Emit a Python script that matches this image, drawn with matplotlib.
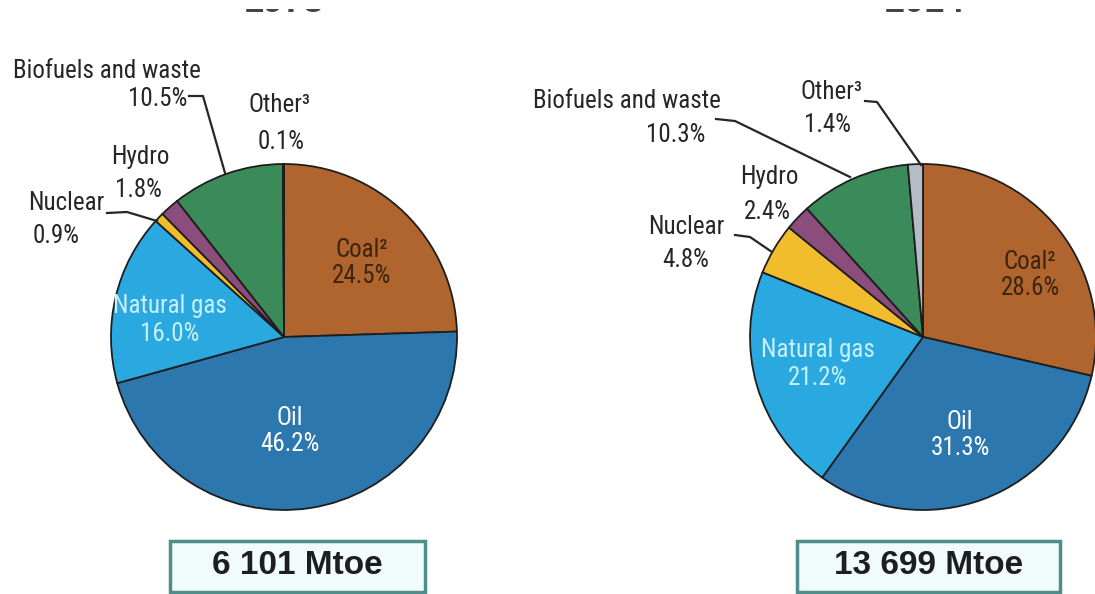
import matplotlib.pyplot as plt
from matplotlib import font_manager
from matplotlib.patches import Rectangle

# labels use a narrow sans if one is installed
available = {f.name for f in font_manager.fontManager.ttflist}
narrow_fonts = ['Liberation Sans Narrow', 'Arial Narrow', 'Roboto Condensed', 'Open Sans Condensed']
label_font = next((n for n in narrow_fonts if n in available), 'Liberation Sans')
label_size = 18 if label_font != 'Liberation Sans' else 15.5
plt.rcParams['font.family'] = [label_font, 'DejaVu Sans']

# shares of total primary energy supply, clockwise from 12 o'clock
fuels = ['Coal', 'Oil', 'Natural gas', 'Nuclear', 'Hydro', 'Biofuels and waste', 'Other']
share_1973 = [24.5, 46.2, 16.0, 0.9, 1.8, 10.5, 0.1]
share_2014 = [28.6, 31.3, 21.2, 4.8, 2.4, 10.3, 1.4]
years = ['1973', '2014']
totals = ['6 101 Mtoe', '13 699 Mtoe']
fuel_colors = ['#b0652e', '#2b77ae', '#2aa9e0', '#f2bd2c', '#8a4d7c', '#3a8a5a', '#b4bcc6']

W, H = 1095, 594


def Y(py):
    # pixel rows run downwards, axes y runs upwards
    return H - py


fig = plt.figure(figsize=(W / 100, H / 100), dpi=100)
ax = fig.add_axes([0, 0, 1, 1])

centers = [(284, 337), (923, 337)]
for shares, (cx, cy) in zip([share_1973, share_2014], centers):
    ax.pie(shares, colors=fuel_colors, startangle=90, counterclock=False,
           center=(cx, Y(cy)), radius=173,
           wedgeprops=dict(edgecolor='#1e1e1e', linewidth=1.3))

ax.set_xlim(0, W)
ax.set_ylim(0, H)
ax.set_aspect('equal')
ax.axis('off')

lab = dict(fontsize=label_size, color='#262626', va='center')
inner = dict(fontsize=label_size, ha='center', va='center')
line = dict(color='#262626', lw=1.6)


def pct(v):
    return '%.1f%%' % v


# 1973 pie labels
ax.text(362, Y(250), 'Coal²', color='#3b2410', **inner)
ax.text(362, Y(276), pct(share_1973[0]), color='#3b2410', **inner)
ax.text(290, Y(418), 'Oil', color='white', **inner)
ax.text(290, Y(444), pct(share_1973[1]), color='white', **inner)
ax.text(170, Y(306), 'Natural gas', color='#c8f0fb', **inner)
ax.text(170, Y(334), pct(share_1973[2]), color='#c8f0fb', **inner)
ax.text(13, Y(71), fuels[5], ha='left', **lab)
ax.text(187, Y(99), pct(share_1973[5]), ha='right', **lab)
ax.text(280, Y(105), 'Other³', ha='center', **lab)
ax.text(281, Y(142), pct(share_1973[6]), ha='center', **lab)
ax.text(140, Y(157), 'Hydro', ha='center', **lab)
ax.text(138, Y(190), pct(share_1973[4]), ha='center', **lab)
ax.text(28, Y(203), 'Nuclear', ha='left', **lab)
ax.text(33, Y(236), pct(share_1973[3]), ha='left', **lab)
ax.plot([189, 203, 225], [Y(96), Y(96), Y(173)], **line)
ax.plot([107, 127, 157], [Y(213), Y(212), Y(221)], **line)

# 2014 pie labels
ax.text(1030, Y(262), 'Coal²', color='#3b2410', **inner)
ax.text(1030, Y(288), pct(share_2014[0]), color='#3b2410', **inner)
ax.text(960, Y(422), 'Oil', color='white', **inner)
ax.text(960, Y(448), pct(share_2014[1]), color='white', **inner)
ax.text(818, Y(350), 'Natural gas', color='#c8f0fb', **inner)
ax.text(818, Y(378), pct(share_2014[2]), color='#c8f0fb', **inner)
ax.text(533, Y(101), fuels[5], ha='left', **lab)
ax.text(705, Y(135), pct(share_2014[5]), ha='right', **lab)
ax.text(831, Y(92), 'Other³', ha='center', **lab)
ax.text(828, Y(125), pct(share_2014[6]), ha='center', **lab)
ax.text(769, Y(177), 'Hydro', ha='center', **lab)
ax.text(767, Y(212), pct(share_2014[4]), ha='center', **lab)
ax.text(686, Y(227), 'Nuclear', ha='center', **lab)
ax.text(686, Y(260), pct(share_2014[3]), ha='center', **lab)
ax.plot([716, 735, 850], [Y(119), Y(121), Y(177)], **line)
ax.plot([865, 877, 921], [Y(101), Y(102), Y(165)], **line)
ax.plot([735, 750, 772], [Y(235), Y(237), Y(252)], **line)

# year headings, cut off by the top edge so only their feet show
for x, yr in zip([284, 925], years):
    t = ax.text(x, Y(12), yr, ha='center', va='baseline', fontsize=26,
                fontweight='bold', color='#444444', family='Liberation Sans')
    t.set_clip_on(True)
    t.set_clip_path(Rectangle((0, Y(14)), W, 5, transform=ax.transData))

# total supply boxes
for (x0, x1), total in zip([(170, 425), (797, 1060)], totals):
    ax.add_patch(Rectangle((x0, Y(592)), x1 - x0, 51, facecolor='#f2fbfb',
                           edgecolor='#4f8c8c', linewidth=2.5, clip_on=False))
    ax.text((x0 + x1) / 2, Y(566), total, ha='center', va='center', fontsize=24,
            fontweight='bold', color='#1e1e1e', family='Liberation Sans')

fig.savefig('out.png', dpi=100, facecolor='white')
